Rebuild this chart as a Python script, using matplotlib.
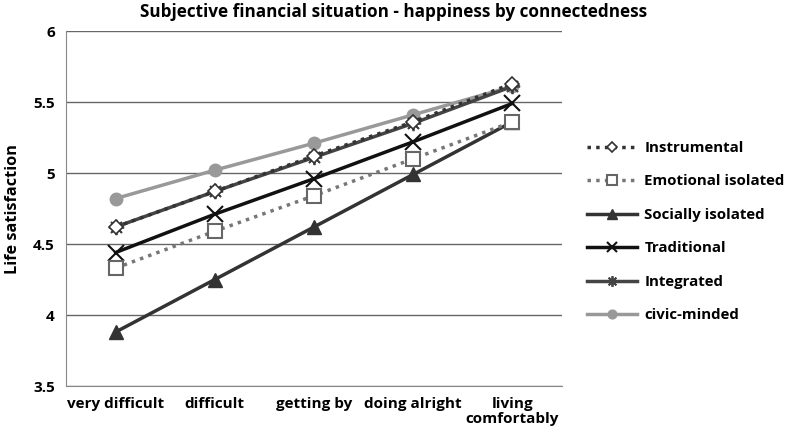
import matplotlib
matplotlib.use("Agg")
import matplotlib.pyplot as plt
import numpy as np

plt.rcParams['font.family'] = ['Open Sans', 'DejaVu Sans']
plt.rcParams['font.weight'] = 'bold'

categories = ["very difficult", "difficult", "getting by", "doing alright", "living\ncomfortably"]

instrumental = [4.62, 4.87, 5.12, 5.36, 5.63]
emotional_isolated = [4.33, 4.59, 4.84, 5.10, 5.36]
socially_isolated = [3.88, 4.25, 4.62, 4.99, 5.36]
traditional = [4.44, 4.71, 4.96, 5.22, 5.49]
integrated = [4.62, 4.87, 5.11, 5.35, 5.61]
civic_minded = [4.82, 5.02, 5.21, 5.41, 5.61]

x = np.arange(len(categories))

fig = plt.figure(figsize=(7.87, 4.38), dpi=100)
ax = fig.add_axes([66 / 787, 1 - 386 / 438, 496 / 787, 355 / 438])

ax.plot(x, civic_minded, color="#999999", lw=2.5, marker="o", ms=9, label="civic-minded", zorder=3)
ax.plot(x, integrated, color="#444444", lw=2.5, marker=(8, 2, 0), ms=11, mew=1.3, label="Integrated", zorder=4)
ax.plot(x, traditional, color="#111111", lw=2.5, marker="x", ms=11, mew=1.5, label="Traditional", zorder=4)
ax.plot(x, socially_isolated, color="#333333", lw=2.5, marker="^", ms=10, label="Socially isolated", zorder=4)
ax.plot(x, emotional_isolated, color="#777777", lw=2.5, ls=(0, (1, 1.5)), marker="s", ms=10,
        mfc="white", mec="#666666", mew=1.5, label="Emotional isolated", zorder=4)
ax.plot(x, instrumental, color="#333333", lw=2.5, ls=(0, (1, 1.5)), marker="D", ms=7,
        mfc="white", mec="#333333", mew=1.2, label="Instrumental", zorder=5)

ax.set_xlim(-0.5, len(categories) - 0.5)
ax.set_ylim(3.5, 6)
ax.set_yticks([3.5, 4, 4.5, 5, 5.5, 6])
ax.set_yticklabels(["3.5", "4", "4.5", "5", "5.5", "6"])
ax.set_xticks(x)
ax.set_xticklabels(categories, linespacing=1.1)
ax.tick_params(length=0, labelsize=11, pad=8)
ax.yaxis.grid(True, color="#666666", lw=1)
ax.set_axisbelow(True)
for s in ["top", "right"]:
    ax.spines[s].set_visible(False)
for s in ["left", "bottom"]:
    ax.spines[s].set_color("#888888")

ax.set_ylabel("Life satisfaction", fontsize=11.7, fontweight="bold", labelpad=9)
fig.text(0.5, 0.972, "Subjective financial situation - happiness by connectedness",
         ha="center", va="center", fontsize=12.3, fontweight="bold")

h, l = ax.get_legend_handles_labels()
order = [5, 4, 3, 2, 1, 0]
ax.legend([h[i] for i in order], [l[i] for i in order], loc="center left",
          bbox_to_anchor=(1.03, 0.435), frameon=False, fontsize=10.8, labelspacing=1.3,
          handlelength=3.3, handletextpad=0.5, markerscale=0.7, borderaxespad=0.3)

fig.savefig("out.png", dpi=100)
